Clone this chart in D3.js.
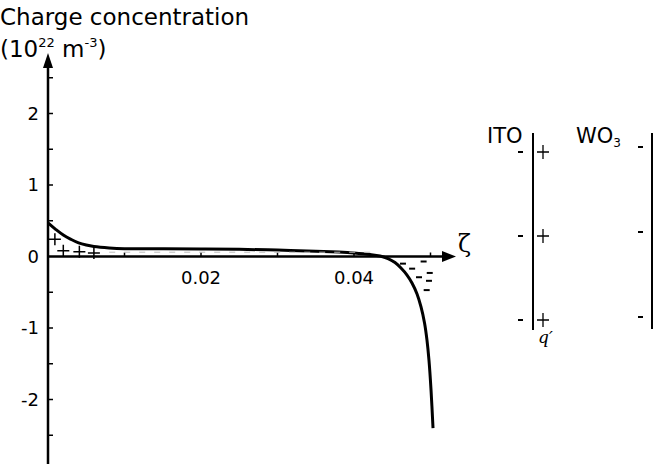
<!DOCTYPE html>
<html>
<head>
<meta charset="utf-8">
<script src="https://cdn.jsdelivr.net/npm/d3@7"></script>
<style>
  body { margin: 0; background: #fff; }
  text { font-family: "DejaVu Sans", sans-serif; fill: #000; }
</style>
</head>
<body>
<div id="chart"></div>
<script>
// charge concentration profile (10^22 m^-3) versus zeta
var zeta   = [0, 0.001, 0.002, 0.003, 0.004, 0.005, 0.006, 0.008, 0.010, 0.015, 0.020, 0.025, 0.030, 0.035, 0.038, 0.0400, 0.0421, 0.0434, 0.04444, 0.04536, 0.04614, 0.04693, 0.04758, 0.04824, 0.04876, 0.04922, 0.04954, 0.0498, 0.05007, 0.05033];
var charge = [0.47, 0.38, 0.30, 0.24, 0.19, 0.16, 0.14, 0.12, 0.11, 0.108, 0.105, 0.10, 0.09, 0.075, 0.062, 0.049, 0.028, 0.007, -0.028, -0.084, -0.161, -0.259, -0.37, -0.524, -0.706, -0.93, -1.17, -1.45, -1.87, -2.4];

// "+" marks under the positive part, "-" marks above the negative part
var plusZeta  = [0.0009, 0.002, 0.0041, 0.006];
var plusVal   = [0.24, 0.08, 0.065, 0.05];
var minusZeta = [0.0464, 0.0476, 0.0491, 0.0485, 0.0499, 0.0498, 0.0495];
var minusVal  = [-0.10, -0.17, -0.07, -0.29, -0.23, -0.34, -0.47];

var yTicks = [-2, -1, 0, 1, 2];
var xTicks = [0.02, 0.04];
var xMinor = [0.01, 0.02, 0.03, 0.04, 0.05];
var yMinor = [-2.5, -2, -1.5, -1, -0.5, 0.5, 1, 1.5, 2, 2.5];

// right-hand schematic: three rows of charges at each interface
var rows = [0, 1, 2];

var width = 658,
    height = 464;

var svg = d3.select("#chart").append("svg")
    .attr("width", width)
    .attr("height", height);

var x = d3.scaleLinear().domain([0, 0.05]).range([48, 430.5]);
var y = d3.scaleLinear().domain([0, 1]).range([256.5, 185]);

// axes
svg.append("line")
    .attr("x1", x(0)).attr("x2", x(0))
    .attr("y1", height).attr("y2", 64)
    .attr("stroke", "#000").attr("stroke-width", 2.5);
svg.append("path")
    .attr("d", "M" + x(0) + ",53 L" + (x(0) - 5) + ",68 L" + (x(0) + 5) + ",68 Z");

svg.append("line")
    .attr("x1", x(0)).attr("x2", 445)
    .attr("y1", y(0)).attr("y2", y(0))
    .attr("stroke", "#000").attr("stroke-width", 2.5);
svg.append("path")
    .attr("d", "M456," + y(0) + " L442," + (y(0) - 5.5) + " L442," + (y(0) + 5.5) + " Z");

svg.selectAll(".ymin")
    .data(yMinor)
  .enter().append("line")
    .attr("x1", x(0)).attr("x2", x(0) + 5)
    .attr("y1", function(d) { return y(d); })
    .attr("y2", function(d) { return y(d); })
    .attr("stroke", "#000").attr("stroke-width", 1.5);

svg.selectAll(".xmin")
    .data(xMinor)
  .enter().append("line")
    .attr("x1", function(d) { return x(d); })
    .attr("x2", function(d) { return x(d); })
    .attr("y1", y(0)).attr("y2", y(0) - 4)
    .attr("stroke", "#000").attr("stroke-width", 1.5);

svg.selectAll(".ylab")
    .data(yTicks)
  .enter().append("text")
    .attr("x", 39)
    .attr("y", function(d) { return y(d); })
    .attr("dy", "0.36em")
    .attr("text-anchor", "end")
    .style("font-size", "18px")
    .text(function(d) { return d; });

svg.selectAll(".xlab")
    .data(xTicks)
  .enter().append("text")
    .attr("x", function(d) { return x(d); })
    .attr("y", 284)
    .attr("text-anchor", "middle")
    .style("font-size", "18px")
    .text(function(d) { return d.toFixed(2); });

// axis titles
svg.append("text").attr("x", 0).attr("y", 25)
    .style("font-size", "23px")
    .text("Charge concentration");
var t2 = svg.append("text").attr("x", 0).attr("y", 57).style("font-size", "23px");
t2.append("tspan").text("(10");
t2.append("tspan").attr("dy", -10).style("font-size", "13px").text("22");
t2.append("tspan").attr("dy", 10).text(" m");
t2.append("tspan").attr("dy", -10).style("font-size", "13px").text("-3");
t2.append("tspan").attr("dy", 10).text(")");

svg.append("text")
    .attr("x", 458).attr("y", 252)
    .style("font-family", "'DejaVu Serif', serif")
    .style("font-size", "24px")
    .text("ζ");

// profile curve
var line = d3.line()
    .x(function(d, i) { return x(zeta[i]); })
    .y(function(d) { return y(d); })
    .curve(d3.curveCatmullRom.alpha(0.5));

svg.append("path")
    .datum(charge)
    .attr("d", line)
    .attr("fill", "none")
    .attr("stroke", "#000")
    .attr("stroke-width", 3);

// faint fill marks between curve and axis
svg.append("line")
    .attr("x1", x(0.008)).attr("x2", x(0.043))
    .attr("y1", y(0.06)).attr("y2", y(0.06))
    .attr("stroke", "#bbb").attr("stroke-width", 1)
    .attr("stroke-dasharray", "6,9");

svg.selectAll(".plus")
    .data(plusVal)
  .enter().append("path")
    .attr("transform", function(d, i) { return "translate(" + x(plusZeta[i]) + "," + y(d) + ")"; })
    .attr("d", "M-6,0H6M0,-6V6")
    .attr("stroke", "#000").attr("stroke-width", 1.5);

svg.selectAll(".minus")
    .data(minusVal)
  .enter().append("line")
    .attr("x1", function(d, i) { return x(minusZeta[i]) - 3; })
    .attr("x2", function(d, i) { return x(minusZeta[i]) + 3; })
    .attr("y1", function(d) { return y(d); })
    .attr("y2", function(d) { return y(d); })
    .attr("stroke", "#000").attr("stroke-width", 2);

// schematic of the ITO / WO3 interfaces
var r1 = d3.scalePoint().domain(rows).range([152, 320]);
var r2 = d3.scalePoint().domain(rows).range([147, 317]);

svg.append("text").attr("x", 487).attr("y", 143).style("font-size", "21px").text("ITO");
var w = svg.append("text").attr("x", 576).attr("y", 143).style("font-size", "21px");
w.append("tspan").text("WO");
w.append("tspan").attr("dy", 4).style("font-size", "12px").text("3");

svg.append("line").attr("x1", 533).attr("x2", 533).attr("y1", 133).attr("y2", 330)
    .attr("stroke", "#000").attr("stroke-width", 2);
svg.append("line").attr("x1", 652).attr("x2", 652).attr("y1", 133).attr("y2", 329)
    .attr("stroke", "#000").attr("stroke-width", 2);

svg.selectAll(".itoMinus")
    .data(rows)
  .enter().append("line")
    .attr("x1", 518).attr("x2", 523)
    .attr("y1", function(d) { return r1(d); })
    .attr("y2", function(d) { return r1(d); })
    .attr("stroke", "#000").attr("stroke-width", 2);

svg.selectAll(".itoPlus")
    .data(rows)
  .enter().append("path")
    .attr("transform", function(d) { return "translate(543," + r1(d) + ")"; })
    .attr("d", "M-6,0H6M0,-7V7")
    .attr("stroke", "#000").attr("stroke-width", 1.3);

svg.selectAll(".woMinus")
    .data(rows)
  .enter().append("line")
    .attr("x1", 638).attr("x2", 643)
    .attr("y1", function(d) { return r2(d); })
    .attr("y2", function(d) { return r2(d); })
    .attr("stroke", "#000").attr("stroke-width", 2);

svg.append("text")
    .attr("x", 538).attr("y", 343)
    .style("font-family", "'DejaVu Serif', serif")
    .style("font-style", "italic")
    .style("font-size", "17px")
    .text("q\u2032");
</script>
</body>
</html>
